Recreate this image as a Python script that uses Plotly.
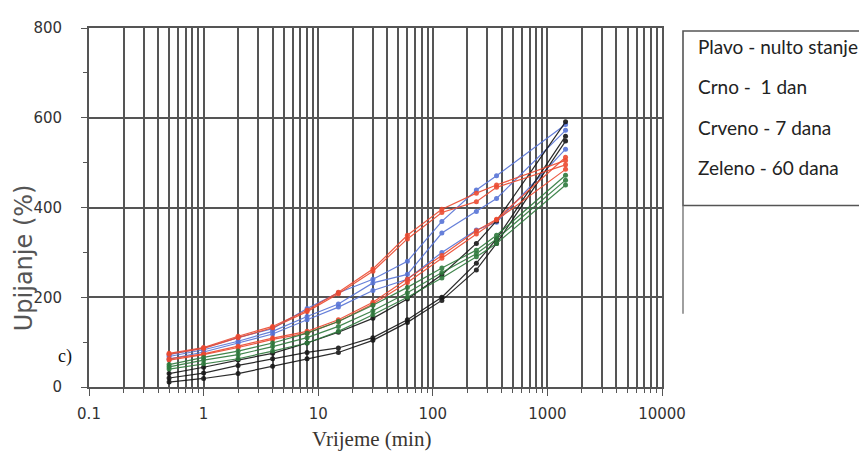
import plotly.graph_objects as go

# Time points (min)
time_min = [0.5, 1, 2, 4, 8, 15, 30, 60, 120, 240, 360, 1440]

# Plavo - nulto stanje
blue_1 = [72, 87, 110, 130, 175, 210, 240, 280, 369, 439, 471, 585]
blue_2 = [68, 83, 102, 124, 157, 185, 232, 251, 343, 391, 420, 572]
blue_3 = [62, 78, 98, 118, 150, 178, 215, 240, 300, 350, 367, 530]

# Crno - 1 dan
black_1 = [30, 44, 60, 75, 98, 122, 153, 196, 250, 320, 370, 591]
black_2 = [20, 31, 48, 63, 77, 87, 110, 150, 200, 276, 330, 559]
black_3 = [11, 19, 30, 46, 63, 77, 104, 144, 193, 261, 320, 548]

# Crveno - 7 dana
red_1 = [75, 88, 113, 135, 171, 211, 263, 338, 396, 432, 450, 505]
red_2 = [73, 86, 110, 132, 168, 208, 258, 330, 389, 413, 445, 495]
red_3 = [63, 74, 91, 109, 124, 150, 189, 240, 293, 348, 374, 512]
red_4 = [60, 72, 88, 106, 120, 146, 185, 233, 287, 341, 372, 485]

# Zeleno - 60 dana
green_1 = [50, 66, 80, 98, 120, 146, 182, 222, 265, 305, 338, 472]
green_2 = [45, 60, 72, 90, 110, 135, 170, 210, 255, 297, 330, 461]
green_3 = [40, 52, 63, 80, 98, 124, 161, 200, 243, 290, 320, 450]

legend_lines = ["Plavo - nulto stanje", "Crno -  1 dan", "Crveno - 7 dana", "Zeleno - 60 dana"]
x_ticks = [0.1, 1, 10, 100, 1000, 10000]
x_ticktext = ["0.1", "1", "10", "100", "1000", "10000"]
y_ticks = [0, 200, 400, 600, 800]

groups = [
    ([blue_1, blue_2, blue_3], "#5673d6"),
    ([black_1, black_2, black_3], "#151515"),
    ([red_1, red_2, red_3, red_4], "#ec4a30"),
    ([green_1, green_2, green_3], "#2e7a3c"),
]

fig = go.Figure()
for series_list, color in groups:
    for s in series_list:
        fig.add_trace(go.Scatter(
            x=time_min, y=s, mode="lines+markers",
            line=dict(color=color, width=1.2),
            marker=dict(color=color, size=5, symbol="circle"),
            showlegend=False, opacity=0.9,
        ))

# Page offset (body margin) is 8 px; plot area in page pixels: x 89..662, y 19..387
OFF = 8
L, R, T, B = 89, 662, 19, 387
W, H = 867 - OFF, 457 - OFF

def px(xp):
    return (xp - L) / (R - L)

def py(yp):
    return (B - yp) / (B - T)

grid_col = "#555555"
tick_font = dict(family="DejaVu Sans", size=15, color="#333333")
fig.update_layout(
    width=W, height=H,
    margin=dict(l=L - OFF, r=W - (R - OFF), t=T - OFF, b=H - (B - OFF), pad=0),
    paper_bgcolor="white", plot_bgcolor="white",
    xaxis=dict(
        type="log", range=[-1, 4],
        tickvals=x_ticks, ticktext=x_ticktext,
        showgrid=True, gridcolor=grid_col, gridwidth=1.7,
        showline=True, linecolor=grid_col, linewidth=1.7, mirror=True,
        ticks="outside", ticklen=7, tickcolor=grid_col, tickwidth=1.4,
        ticklabelstandoff=5,
        minor=dict(dtick="D1", showgrid=True, gridcolor=grid_col, gridwidth=1.7,
                   ticks="outside", ticklen=4, tickcolor=grid_col, tickwidth=1.2),
        tickfont=tick_font,
        zeroline=False,
    ),
    yaxis=dict(
        range=[0, 800], tickvals=y_ticks,
        showgrid=True, gridcolor=grid_col, gridwidth=1.7,
        showline=True, linecolor=grid_col, linewidth=1.7, mirror=True,
        ticks="outside", ticklen=6, tickcolor=grid_col, tickwidth=1.4,
        ticklabelstandoff=16,
        minor=dict(dtick=100, ticks="outside", ticklen=4, tickcolor=grid_col, showgrid=False),
        tickfont=tick_font,
        zeroline=False,
    ),
)

# Axis titles
fig.add_annotation(text="Vrijeme (min)", xref="paper", yref="paper",
                   x=px(371), y=py(440), xanchor="center", yanchor="middle", showarrow=False,
                   font=dict(family="Liberation Serif, Times New Roman", size=21, color="#3a3530"))
fig.add_annotation(text="Upijanje (%)", xref="paper", yref="paper",
                   x=px(24), y=py(255), xanchor="center", yanchor="middle", showarrow=False,
                   textangle=-90,
                   font=dict(family="DejaVu Sans", size=24, color="#555555"))

# Legend box (text box on the right)
fig.add_shape(type="rect", xref="paper", yref="paper",
              x0=px(683), x1=px(900), y0=py(201), y1=py(22),
              line=dict(color="#555555", width=1.6), fillcolor="rgba(0,0,0,0)")
fig.add_shape(type="line", xref="paper", yref="paper",
              x0=px(683), x1=px(683), y0=py(201), y1=py(312),
              line=dict(color="#777777", width=1.4))

for i, txt in enumerate(legend_lines):
    fig.add_annotation(text=txt, xref="paper", yref="paper",
                       x=px(696), y=py(38 + 41.3 * i), xanchor="left", yanchor="middle",
                       showarrow=False,
                       font=dict(family="Lato, Open Sans", size=19, color="#222222"))

fig.add_annotation(text="c)", xref="paper", yref="paper", x=px(65), y=py(356),
                   xanchor="center", yanchor="middle", showarrow=False,
                   font=dict(family="Liberation Serif, Times New Roman", size=18, color="#111111"))

fig.write_html("out.html")
